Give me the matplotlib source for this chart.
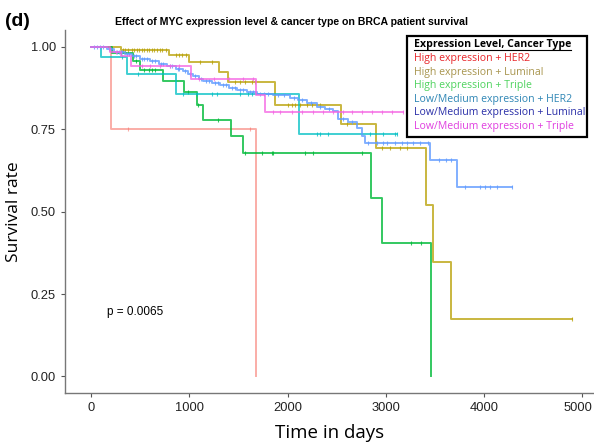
import numpy as np
import matplotlib
matplotlib.use("Agg")
import matplotlib.pyplot as plt
import matplotlib.transforms as mtransforms
from matplotlib.patches import Rectangle
from matplotlib.lines import Line2D

plt.rcParams['font.family'] = ['Liberation Sans', 'DejaVu Sans']

# --- DATA ---
group_labels = [
    'High expression + HER2',
    'High expression + Luminal',
    'High expression + Triple',
    'Low/Medium expression + HER2',
    'Low/Medium expression + Luminal',
    'Low/Medium expression + Triple',
]

# event times (days) and survival right after each event
her2_hi_t = [200, 1680]
her2_hi_s = [0.75, 0.0]
her2_hi_cens = [375, 1620]
her2_hi_end = 1680

lum_hi_t = [305, 793, 997, 1302, 1394, 1872, 2540, 2900, 3405, 3480, 3660]
lum_hi_s = [0.99, 0.973, 0.952, 0.922, 0.893, 0.822, 0.764, 0.694, 0.52, 0.347, 0.174]
lum_hi_cens = [330, 346, 380, 414, 440, 465, 490, 516, 540, 566, 590, 617, 640, 668, 700, 719, 760,
               860, 895, 930, 965, 1109, 1228, 1465, 1516, 1567, 1635, 1668,
               2007, 2041, 2075, 2126, 2194, 2250, 2330, 2601, 2957, 3042, 3144, 3211, 4890]
lum_hi_end = 4890

tri_hi_t = [217, 424, 498, 736, 949, 1075, 1136, 1424, 1543, 2845, 2957, 3459]
tri_hi_s = [0.98, 0.957, 0.93, 0.897, 0.862, 0.822, 0.777, 0.729, 0.677, 0.541, 0.406, 0.0]
tri_hi_cens = [300, 460, 540, 590, 620, 655, 990, 1090, 1290, 1567, 1736, 1838, 1855,
               2177, 2262, 2760, 3252, 3354]
tri_hi_end = 3459

her2_lo_t = [98, 363, 865, 2114]
her2_lo_s = [0.967, 0.917, 0.856, 0.734]
her2_lo_cens = [320, 478, 932, 1075, 1228, 1279, 1516, 1600, 1635, 2296, 2330, 2414,
                2838, 2970, 3093, 3115]
her2_lo_end = 3115

lum_lo_t = [160, 230, 346, 420, 498, 600, 690, 770, 860, 939, 990, 1041, 1100, 1143, 1230,
            1312, 1400, 1482, 1584, 1685, 1855, 2024, 2110, 2194, 2296, 2380, 2465, 2516,
            2610, 2703, 2754, 2787, 3445, 3726]
lum_lo_s = [0.993, 0.985, 0.977, 0.97, 0.963, 0.955, 0.948, 0.94, 0.933, 0.925, 0.918, 0.91,
            0.903, 0.896, 0.889, 0.882, 0.874, 0.868, 0.862, 0.856, 0.852, 0.845, 0.839, 0.829,
            0.816, 0.81, 0.804, 0.779, 0.77, 0.754, 0.729, 0.709, 0.655, 0.573]
lum_lo_cens = [30, 60, 90, 120, 180, 200, 260, 280, 300, 320, 370, 390, 440, 460, 520, 540,
               570, 620, 650, 710, 730, 800, 820, 880, 900, 960, 1010, 1060, 1120, 1170, 1200,
               1260, 1290, 1340, 1370, 1430, 1460, 1520, 1550, 1620, 1650, 1720, 1760, 1800,
               1900, 1960, 2060, 2150, 2240, 2330, 2420, 2560, 2650, 2821, 2906, 2973, 3007,
               3092, 3160, 3211, 3279, 3346, 3431, 3540, 3608, 3659, 3805, 3957, 4008, 4059,
               4127, 4280]
lum_lo_end = 4280

tri_lo_t = [190, 300, 407, 1017, 1679, 1772]
tri_lo_s = [0.985, 0.97, 0.942, 0.902, 0.852, 0.801]
tri_lo_cens = [250, 520, 600, 700, 800, 900, 1100, 1250, 1400, 1550, 1650,
               1850, 1923, 2041, 2143, 2261, 2363, 2465, 2560, 2660, 2760, 2860, 2960,
               3060, 3177]
tri_lo_end = 3177

p_value_text = 'p = 0.0065'
x_ticks = [0, 1000, 2000, 3000, 4000, 5000]
y_ticks = [0, 0.25, 0.5, 0.75, 1.0]
y_ticklabels = ['0.00', '0.25', '0.50', '0.75', '1.00']

line_colors = ['#F8766D', '#B79F00', '#00BA38', '#00BFC4', '#619CFF', '#F564E3']
line_alpha = [0.6, 0.75, 0.8, 0.75, 0.8, 0.75]
text_colors = ['#E8262B', '#A8954E', '#4FD35F', '#2F86B5', '#2A2FA8', '#E03FE0']

groups = [
    (her2_hi_t, her2_hi_s, her2_hi_cens, her2_hi_end),
    (lum_hi_t, lum_hi_s, lum_hi_cens, lum_hi_end),
    (tri_hi_t, tri_hi_s, tri_hi_cens, tri_hi_end),
    (her2_lo_t, her2_lo_s, her2_lo_cens, her2_lo_end),
    (lum_lo_t, lum_lo_s, lum_lo_cens, lum_lo_end),
    (tri_lo_t, tri_lo_s, tri_lo_cens, tri_lo_end),
]

# --- PLOT ---
fig = plt.figure(figsize=(5.94, 4.42), dpi=100)
ax = fig.add_axes([0.1094, 0.1109, 0.8906, 0.8211])

for (t, s, cens, end), col, a in zip(groups, line_colors, line_alpha):
    xs = [0] + list(t)
    ys = [1.0] + list(s)
    if end > xs[-1]:
        xs.append(end)
        ys.append(ys[-1])
    ax.step(xs, ys, where='post', color=col, alpha=a, lw=1.4)
    # censor marks sit on the step function
    idx = np.searchsorted(np.array(t), np.array(cens), side='right')
    cy = np.concatenate([[1.0], s])[idx]
    ax.plot(cens, cy, ls='none', marker='|', ms=3.5, mew=0.8, color=col, alpha=a)

ax.text(160, 0.196, p_value_text, fontsize=8.5, va='center', ha='left')

ax.set_xlim(-265, 5117)
ax.set_ylim(-0.05, 1.05)
ax.set_xticks(x_ticks)
ax.set_yticks(y_ticks)
ax.set_yticklabels(y_ticklabels)
ax.tick_params(labelsize=9.3, colors='#555555', labelcolor='#222222', length=3, width=0.8)
for side in ['top', 'right']:
    ax.spines[side].set_visible(False)
for side in ['left', 'bottom']:
    ax.spines[side].set_color('#777777')
    ax.spines[side].set_linewidth(1.0)

# last x label sits right at the figure edge, nudge it left a little
last = ax.get_xticklabels()[-1]
last.set_transform(last.get_transform() + mtransforms.ScaledTranslation(-5 / 100, 0, fig.dpi_scale_trans))

ax.set_xlabel('Time in days', fontsize=13.5, family=['Open Sans', 'DejaVu Sans'], labelpad=7)
ax.set_ylabel('Survival rate', fontsize=12.5, family=['Open Sans', 'DejaVu Sans'], labelpad=6)

fig.text(0.49, 1 - 22 / 442, 'Effect of MYC expression level & cancer type on BRCA patient survival',
         ha='center', va='center', fontsize=7.6, fontweight='bold')
fig.text(0.008, 1 - 22 / 442, '(d)', ha='left', va='center', fontsize=14, fontweight='bold')

# legend box drawn by hand (title is underlined)
fig.patches.append(Rectangle((407 / 594, 1 - 137 / 442), 180 / 594, 101 / 442,
                             transform=fig.transFigure, fill=True, facecolor='white',
                             edgecolor='black', lw=1.6, zorder=5))
leg_font = ['Open Sans', 'DejaVu Sans']
title = fig.text(414 / 594, 1 - 45 / 442, 'Expression Level, Cancer Type', ha='left', va='center',
                 fontsize=7.6, fontweight='bold', family=leg_font, zorder=6)
row_y = [59, 72.5, 85.5, 99.5, 112.5, 126.5]
for lab, col, py in zip(group_labels, text_colors, row_y):
    fig.text(414 / 594, 1 - py / 442, lab, ha='left', va='center', fontsize=7.6,
             color=col, family=leg_font, zorder=6)

fig.canvas.draw()
bb = title.get_window_extent().transformed(fig.transFigure.inverted())
fig.lines.append(Line2D([bb.x0, bb.x1], [bb.y0 + 0.002, bb.y0 + 0.002], transform=fig.transFigure,
                        color='black', lw=0.8, zorder=7))

fig.savefig('out.png', dpi=100)
